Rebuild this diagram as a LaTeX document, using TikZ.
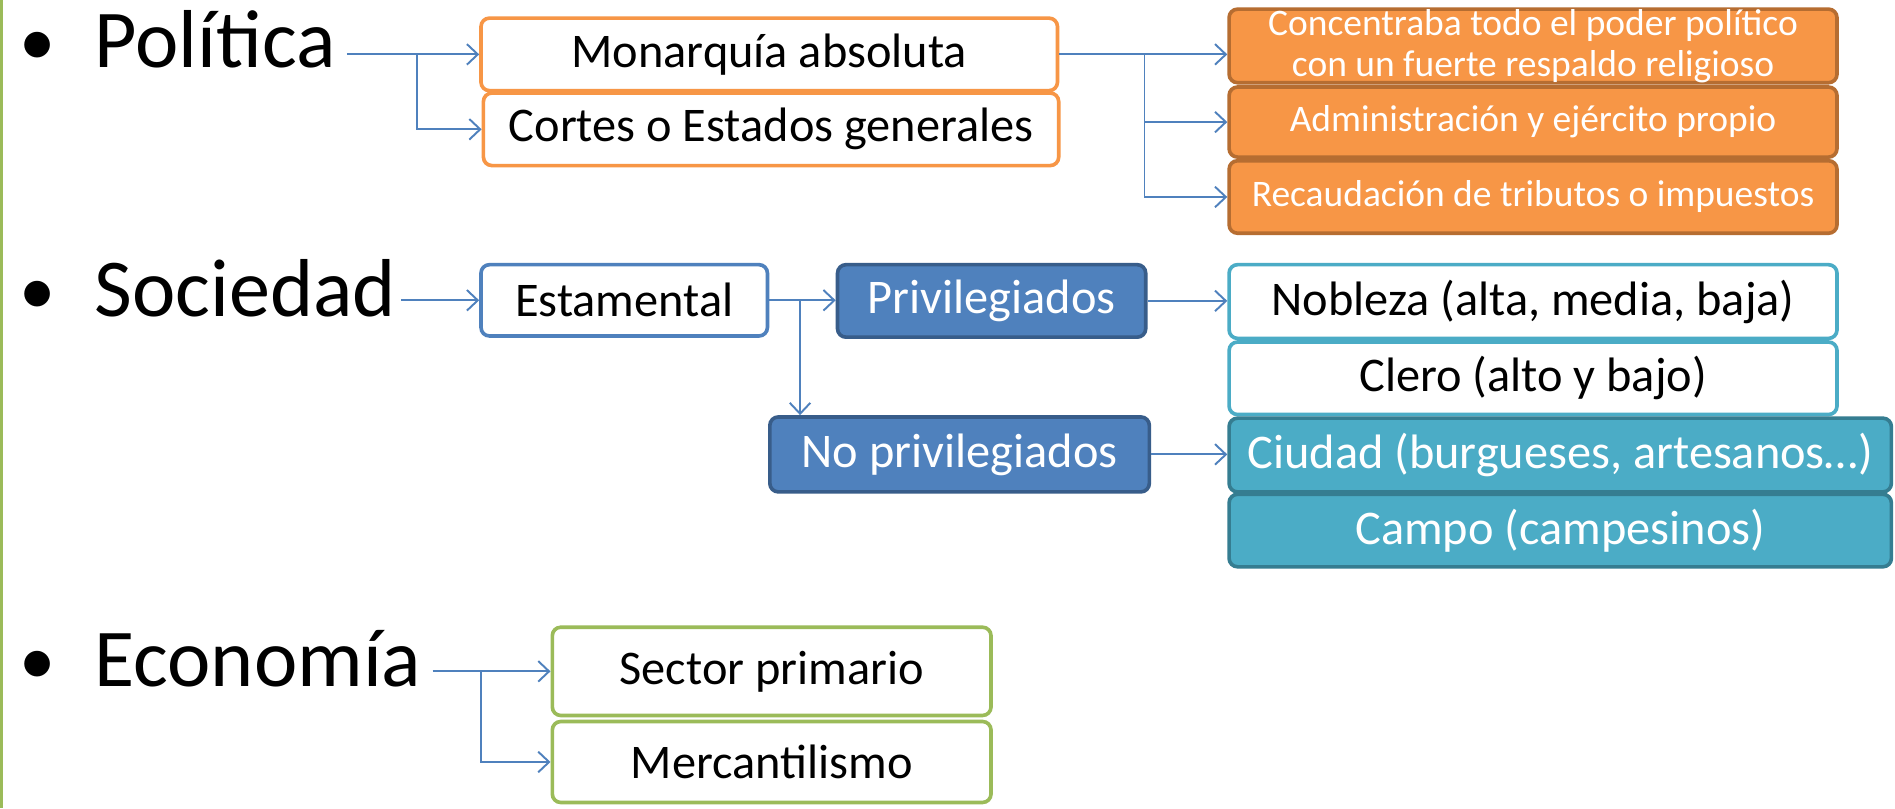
\documentclass[tikz,border=0pt]{standalone}
\usepackage{fontspec}
\setmainfont{Carlito}
\usetikzlibrary{arrows.meta}
\definecolor{orangeF}{HTML}{F79646}
\definecolor{orangeD}{HTML}{B66D31}
\definecolor{blueF}{HTML}{4F81BD}
\definecolor{blueD}{HTML}{385D8A}
\definecolor{cyanF}{HTML}{4BACC6}
\definecolor{cyanD}{HTML}{357D91}
\definecolor{greenF}{HTML}{9BBB59}
\tikzset{
  box/.style={rounded corners=7pt, line width=3pt, inner sep=0pt, align=center, font=\fontsize{40}{44}\selectfont},
  wbox/.style={box, fill=white, text=black},
  fbox/.style={box, text=white},
  obox/.style={fbox, draw=orangeD, fill=orangeF, font=\fontsize{31}{34}\selectfont},
  bbox/.style={fbox, draw=blueD, fill=blueF},
  cbox/.style={fbox, draw=cyanD, fill=cyanF},
  head/.style={anchor=base west, inner sep=0pt, font=\fontsize{68}{70}\selectfont},
  bul/.style={anchor=base, inner sep=0pt, font=\fontsize{60}{62}\selectfont},
  arr/.style={draw=blueF, line width=1.6pt, -{Straight Barb[length=9pt,width=17pt,line width=1.6pt]}},
  ln/.style={draw=blueF, line width=1.6pt}
}
\begin{document}
\begin{tikzpicture}[x=1pt,y=-1pt]
\useasboundingbox (0,0) rectangle (1568,668.6);
\fill[white] (0,0) rectangle (1568,668.6);
\draw[greenF, line width=2.5pt] (1.2,0) -- (1.2,668.6);

% left headings
\node[bul] (b1) at (31,54) {•};
\node[head] (pol) at (78,56) {Política};
\node[bul] (b2) at (31,260) {•};
\node[head] (soc) at (78,262) {Sociedad};
\node[bul] (b3) at (31,566) {•};
\node[head] (eco) at (78,568) {Economía};

% Política boxes
\node[wbox, draw=orangeF, minimum width=477pt, minimum height=60pt] (mon) at (636.5,45) {Monarquía absoluta};
\node[wbox, draw=orangeF, minimum width=476pt, minimum height=60pt] (cor) at (638,107) {Cortes o Estados generales};
\node[obox, minimum width=503pt, minimum height=60pt] (o1) at (1268.5,38) {Concentraba todo el poder político\\con un fuerte respaldo religioso};
\node[obox, minimum width=503pt, minimum height=58pt] (o2) at (1268.5,101) {Administración y ejército propio};
\node[obox, minimum width=503pt, minimum height=60pt] (o3) at (1268.5,163) {Recaudación de tributos o impuestos};

% Sociedad boxes
\node[wbox, draw=blueF, minimum width=237pt, minimum height=59pt] (est) at (516.5,248.5) {Estamental};
\node[bbox, minimum width=255pt, minimum height=60pt] (priv) at (820.5,249) {Privilegiados};
\node[bbox, minimum width=314pt, minimum height=62pt] (nopriv) at (794,376) {No privilegiados};
\node[wbox, draw=cyanF, minimum width=503pt, minimum height=61pt] (nob) at (1268.5,249.5) {Nobleza (alta, media, baja)};
\node[wbox, draw=cyanF, minimum width=503pt, minimum height=60pt] (cle) at (1268.5,313) {Clero (alto y bajo)};
\node[cbox, minimum width=548pt, minimum height=61pt] (ciu) at (1291,376.5) {Ciudad (burgueses, artesanos…)};
\node[cbox, minimum width=548pt, minimum height=60pt] (cam) at (1291,439) {Campo (campesinos)};

% Economía boxes
\node[wbox, draw=greenF, minimum width=363pt, minimum height=73pt] (sec) at (638.5,555.5) {Sector primario};
\node[wbox, draw=greenF, minimum width=363pt, minimum height=67pt] (mer) at (638.5,630.5) {Mercantilismo};

% connectors
\coordinate (pa) at (287,45);
\coordinate (pb) at (345,45);
\draw[arr] (pa) -- (mon.west);
\draw[arr] (pb) |- (cor.west);

\coordinate (ma) at (947,45);
\draw[arr] (mon.east) -- (mon.east -| o1.west);
\draw[arr] (ma) |- (o2.west);
\draw[arr] (ma) |- (o3.west);

\coordinate (sa) at (332,248.5);
\draw[arr] (sa) -- (est.west);
\coordinate (eb) at (662,249);
\draw[arr] (est.east) -- (est.east -| priv.west);
\draw[arr] (eb) -- (eb |- nopriv.north);
\draw[arr] (priv.east) -- (priv.east -| nob.west);
\draw[arr] (nopriv.east) -- (nopriv.east -| ciu.west);

\coordinate (ea) at (358,555.5);
\coordinate (ec) at (398,555.5);
\draw[arr] (ea) -- (sec.west);
\draw[arr] (ec) |- (mer.west);
\end{tikzpicture}
\end{document}
